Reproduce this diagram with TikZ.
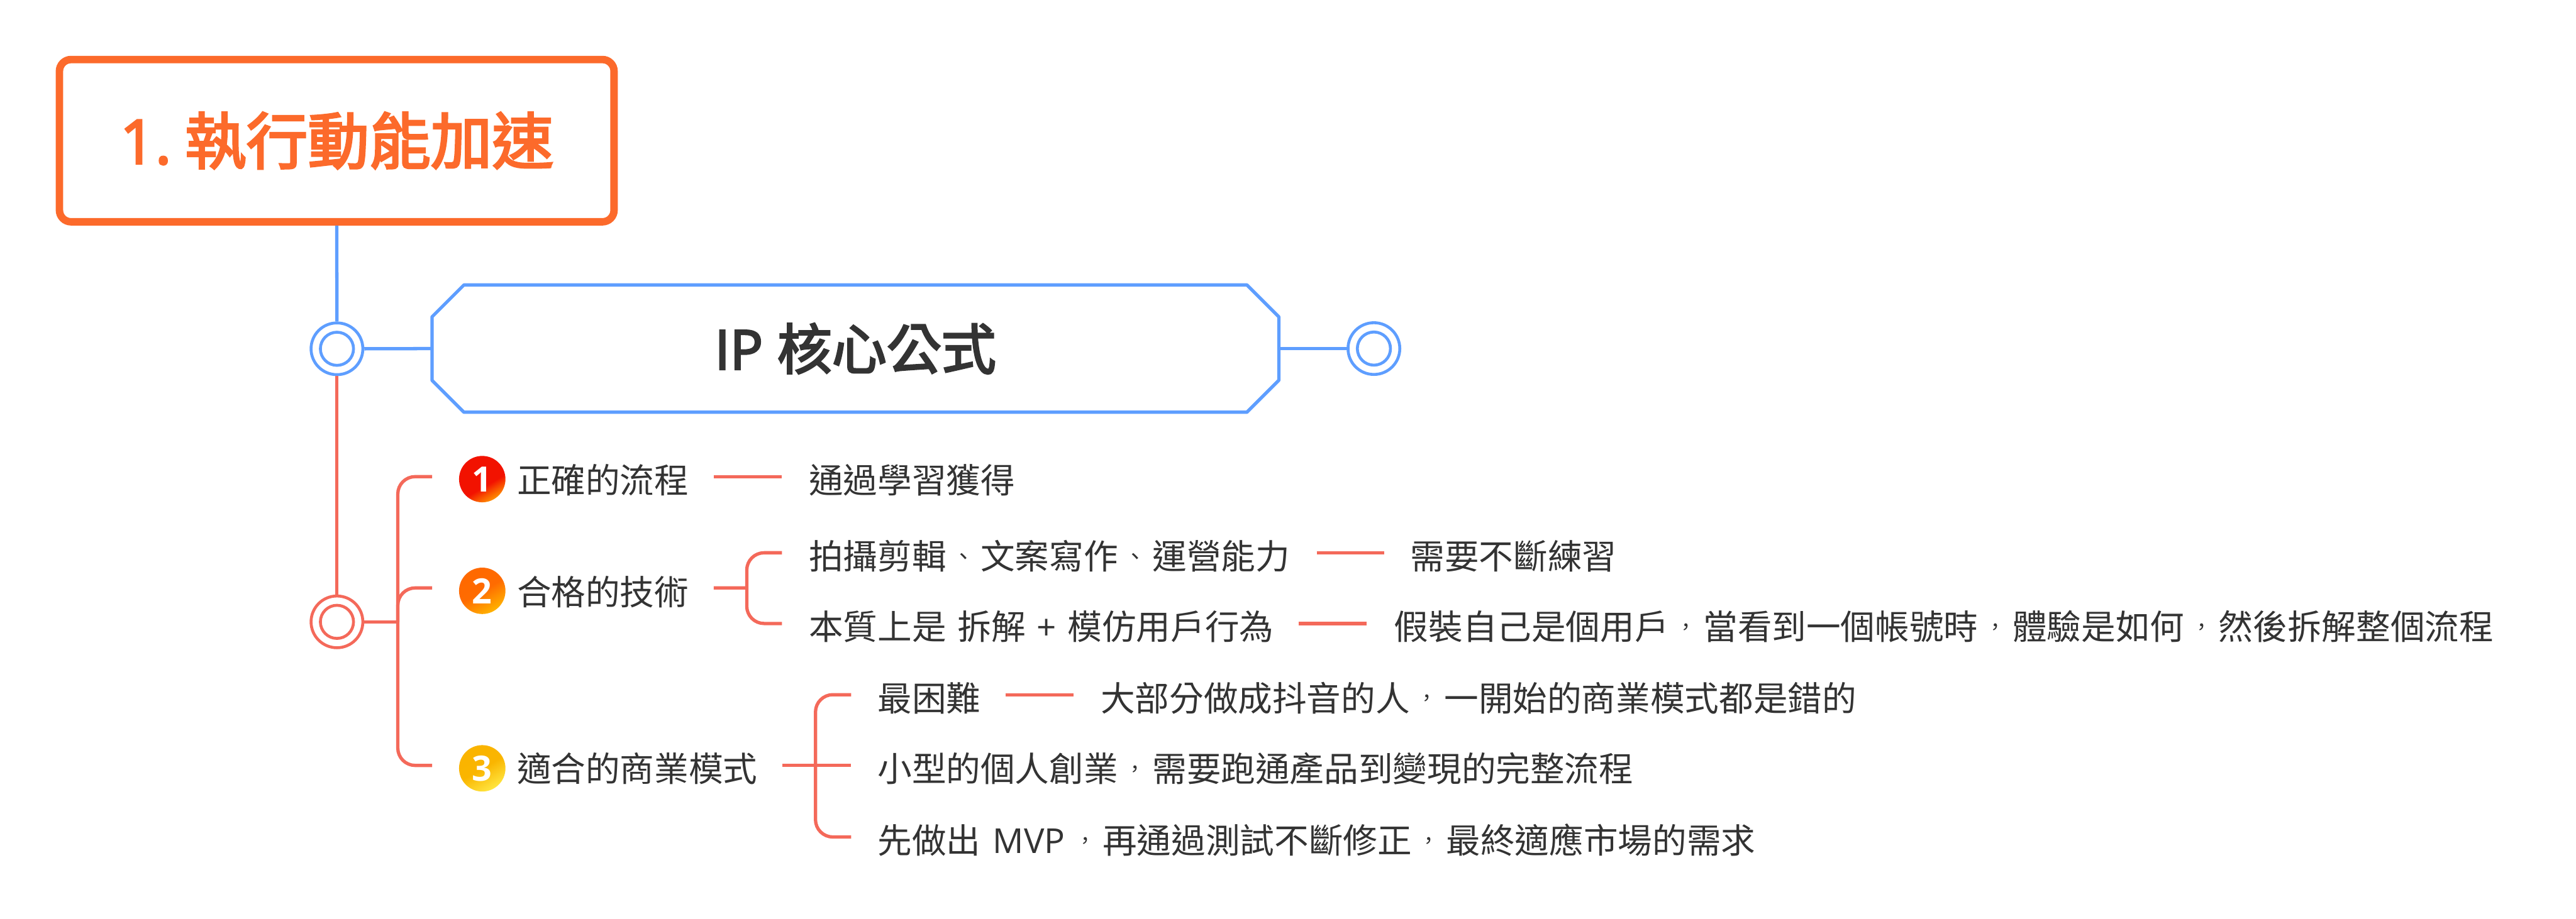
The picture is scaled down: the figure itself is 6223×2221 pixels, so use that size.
\documentclass[tikz,border=0pt]{standalone}
\usepackage{fontspec}
\setmainfont{Noto Sans CJK TC}
\newfontfamily\cjkheavy[FakeBold=3.2]{Noto Sans CJK TC}
\newfontfamily\oslatin{Open Sans}
\newfontfamily\oslatinheavy[FakeBold=3.2]{Open Sans}
\definecolor{rootc}{HTML}{FC6A2B}
\definecolor{bluec}{HTML}{5E9EFF}
\definecolor{redc}{HTML}{F4695A}
\definecolor{ink}{HTML}{333333}
\pgfdeclareverticalshading{iconone}{100bp}{rgb(0bp)=(1,.56,0);rgb(25bp)=(1,.56,0);rgb(42bp)=(.95,.07,0);rgb(100bp)=(.95,.07,0)}
\pgfdeclareverticalshading{icontwo}{100bp}{rgb(0bp)=(1,.72,0);rgb(25bp)=(1,.70,0);rgb(50bp)=(1,.42,0);rgb(100bp)=(1,.40,0)}
\pgfdeclareverticalshading{iconthree}{100bp}{rgb(0bp)=(1,.9,.25);rgb(25bp)=(1,.9,.25);rgb(50bp)=(.98,.71,0);rgb(100bp)=(.98,.70,0)}
\newcommand\bodyf{\fontsize{23.6pt}{28pt}\selectfont}
\newcommand\cma{\makebox[1em][c]{\raisebox{.15em}{\scalebox{.6}{，}}}}
\newcommand\dun{\makebox[1em][c]{\raisebox{.13em}{\scalebox{.65}{、}}}}
\tikzset{
  rootbox/.style={draw=rootc,line width=.18cm,rounded corners=.28cm,fill=white,minimum width=13.39cm,minimum height=3.92cm,inner sep=0pt,text=rootc,font=\fontsize{42.2pt}{50pt}\selectfont\cjkheavy},
  hexbox/.style={minimum width=20.43cm,minimum height=3.06cm,inner sep=0pt,text=ink,font=\fontsize{37.6pt}{44pt}\selectfont\cjkheavy},
  hexline/.style={draw=bluec,line width=.08cm,line join=round},
  ringout/.style={circle,draw=#1,line width=.07cm,fill=white,minimum size=1.25cm,inner sep=0pt},
  ringin/.style={circle,draw=#1,line width=.07cm,fill=white,minimum size=.8cm,inner sep=0pt},
  bluel/.style={draw=bluec,line width=.08cm},
  redl/.style={draw=redc,line width=.08cm},
  redr/.style={draw=redc,line width=.08cm,rounded corners=.42cm},
  tx/.style={anchor=west,inner sep=0pt,outer sep=0pt,text=ink,text height=.7885cm,text depth=0pt,font=\bodyf},
  numicon/.style={circle,minimum size=1.12cm,inner sep=0pt,shade,shading=#1,shading angle=30,text=white,font=\fontsize{24pt}{28pt}\selectfont\oslatin\bfseries},
}
\begin{document}
\begin{tikzpicture}[x=.01cm,y=-.01cm]
\useasboundingbox (0,0) rectangle (6223,2221);
\fill[white] (0,0) rectangle (6223,2221);

\node[rootbox] (root) at (813.5,340) {{\oslatinheavy 1.\kern-.06cm\ }執行動能加速};
\node[hexbox] (hex) at (2066.5,842.5) {{\oslatinheavy IP }核心公式};
\draw[hexline] ([xshift=.77cm]hex.north west) -- ([xshift=-.77cm]hex.north east)
  -- ([yshift=-.77cm]hex.north east) -- ([yshift=.77cm]hex.south east)
  -- ([xshift=-.77cm]hex.south east) -- ([xshift=.77cm]hex.south west)
  -- ([yshift=.77cm]hex.south west) -- ([yshift=-.77cm]hex.north west) -- cycle;
\node[ringout=bluec] (c1) at (814,843) {};
\node[ringin=bluec] (c1i) at (c1) {};
\node[ringout=bluec] (c3) at (3319,842.5) {};
\node[ringin=bluec] (c3i) at (c3) {};
\node[ringout=redc] (c2) at (814,1503) {};
\node[ringin=redc] (c2i) at (c2) {};

\node[numicon=iconone] (i1) at (1165,1158) {1};
\node[numicon=icontwo] (i2) at (1165,1428) {2};
\node[numicon=iconthree] (i3) at (1165,1857) {3};

\node[tx] (l1) at (1249,1152) {正確的流程};
\node[tx] (l2) at (1249,1423) {合格的技術};
\node[tx] (l3) at (1249,1850) {適合的商業模式};
\node[tx] (a1) at (1954,1152) {通過學習獲得};
\node[tx] (a2) at (1954,1336) {拍攝剪輯\dun 文案寫作\dun 運營能力};
\node[tx] (a3) at (1954,1507) {本質上是{\oslatin\ }\kern.05cm 拆解{\oslatin\kern.05cm\ +\ \kern.05cm}模仿用戶行為};
\node[tx] (b2) at (3407,1336) {需要不斷練習};
\node[tx] (b3) at (3368,1507) {假裝自己是個用戶\cma 當看到一個帳號時\cma 體驗是如何\cma 然後拆解整個流程};
\node[tx] (e1) at (2120,1679) {最困難};
\node[tx] (f1) at (2659,1679) {大部分做成抖音的人\cma 一開始的商業模式都是錯的};
\node[tx] (e2) at (2120,1850) {小型的個人創業\cma 需要跑通產品到變現的完整流程};
\node[tx] (e3) at (2120,2023) {先做出{\oslatin\ \kern.08cm MVP\kern.08cm}\cma 再通過測試不斷修正\cma 最終適應市場的需求};

\coordinate (ja) at (961,1503);
\coordinate (jb) at (1804,1421);
\coordinate (jc) at (1970,1850);

\draw[bluel] (root.south) -- (c1.north);
\draw[bluel] (c1.east) -- (hex.west);
\draw[bluel] (hex.east) -- (c3.west);
\draw[redl] (c1.south) -- (c2.north);
\draw[redl] (c2.east) -- (ja);
\draw[redr] ([xshift=-2.05cm]l1.west) -| (ja) |- ([xshift=-2.05cm]l3.west);
\draw[redr] (ja) |- ([xshift=-2.05cm,yshift=.02cm]l2.west);
\draw[redl] ([xshift=.6cm]l1.east) -- ([xshift=-.65cm]a1.west);
\draw[redl] ([xshift=.6cm,yshift=.02cm]l2.east) -- (jb);
\draw[redr] ([xshift=-.65cm]a2.west) -| (jb) |- ([xshift=-.65cm]a3.west);
\draw[redl] ([xshift=.65cm]a2.east) -- ([xshift=-.63cm]b2.west);
\draw[redl] ([xshift=.6cm]a3.east) -- ([xshift=-.66cm]b3.west);
\draw[redl] ([xshift=.6cm]l3.east) -- ([xshift=-.64cm]e2.west);
\draw[redr] ([xshift=-.64cm]e1.west) -| (jc) |- ([xshift=-.64cm]e3.west);
\draw[redl] ([xshift=.6cm]e1.east) -- ([xshift=-.65cm]f1.west);
\end{tikzpicture}
\end{document}
